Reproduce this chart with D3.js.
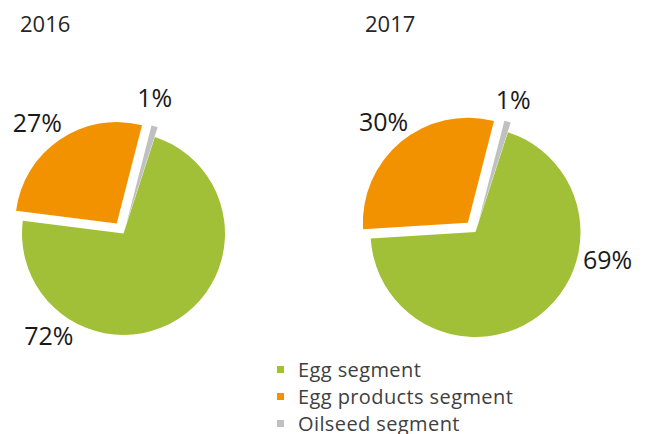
<!DOCTYPE html>
<html>
<head>
<meta charset="utf-8">
<script src="https://cdn.jsdelivr.net/npm/d3@7"></script>
<style>
  body { margin: 0; background: #fff; }
  svg { display: block; font-family: "Open Sans", sans-serif; }
</style>
</head>
<body>
<script>
const segments = ['Egg segment', 'Egg products segment', 'Oilseed segment'];
const years = ['2016', '2017'];
const values2016 = [72, 27, 1];
const values2017 = [69, 30, 1];
const colors = ['#a2c037', '#f39200', '#c0c0c0'];

const width = 649;
const height = 434;

// one entry per pie: centre, radius and where Excel put the % labels (angle in deg, distance in px)
const layout = [
  { values: values2016, title: years[0], titleX: 20, cx: 123.5, cy: 233.5, r: 101.5,
    labels: [[216, 127], [322, 140], [13, 139]] },
  { values: values2017, title: years[1], titleX: 365, cx: 475.5, cy: 232, r: 105,
    labels: [[102, 135], [320, 143], [16, 137]] }
];
const explode = [0, 12, 10];
const startDeg = 18;

const svg = d3.select('body')
  .append('svg')
  .attr('width', width)
  .attr('height', height);

const rad = (deg) => deg * Math.PI / 180;

const pie = d3.pie()
  .sort(null)
  .startAngle(rad(startDeg))
  .endAngle(rad(startDeg + 360));

layout.forEach((chart) => {
  svg.append('text')
    .attr('x', chart.titleX)
    .attr('y', 32)
    .attr('font-size', 22)
    .attr('fill', '#262626')
    .text(chart.title);

  const arc = d3.arc().innerRadius(0).outerRadius(chart.r);
  const g = svg.append('g')
    .attr('transform', 'translate(' + chart.cx + ',' + chart.cy + ')');

  g.selectAll('path')
    .data(pie(chart.values))
    .enter()
    .append('path')
    .attr('d', arc)
    .attr('fill', (d, i) => colors[i])
    .attr('transform', (d, i) => {
      const mid = (d.startAngle + d.endAngle) / 2;
      const dx = Math.sin(mid) * explode[i];
      const dy = -Math.cos(mid) * explode[i];
      return 'translate(' + dx + ',' + dy + ')';
    });

  g.selectAll('text.pct')
    .data(chart.values)
    .enter()
    .append('text')
    .attr('class', 'pct')
    .attr('x', (v, i) => Math.sin(rad(chart.labels[i][0])) * chart.labels[i][1])
    .attr('y', (v, i) => -Math.cos(rad(chart.labels[i][0])) * chart.labels[i][1])
    .attr('dy', '0.36em')
    .attr('text-anchor', 'middle')
    .attr('font-size', 25)
    .attr('fill', '#1a1a1a')
    .text((v) => v + '%');
});

const legend = svg.append('g')
  .attr('transform', 'translate(277, 377)');

const rows = legend.selectAll('g')
  .data(segments)
  .enter()
  .append('g')
  .attr('transform', (d, i) => 'translate(0,' + (i * 27) + ')');

rows.append('rect')
  .attr('x', 0)
  .attr('y', -11)
  .attr('width', 7)
  .attr('height', 7)
  .attr('fill', (d, i) => colors[i]);

rows.append('text')
  .attr('x', 21)
  .attr('y', 0)
  .attr('font-size', 20)
  .attr('letter-spacing', 0.4)
  .attr('fill', '#404040')
  .text((d) => d);
</script>
</body>
</html>
